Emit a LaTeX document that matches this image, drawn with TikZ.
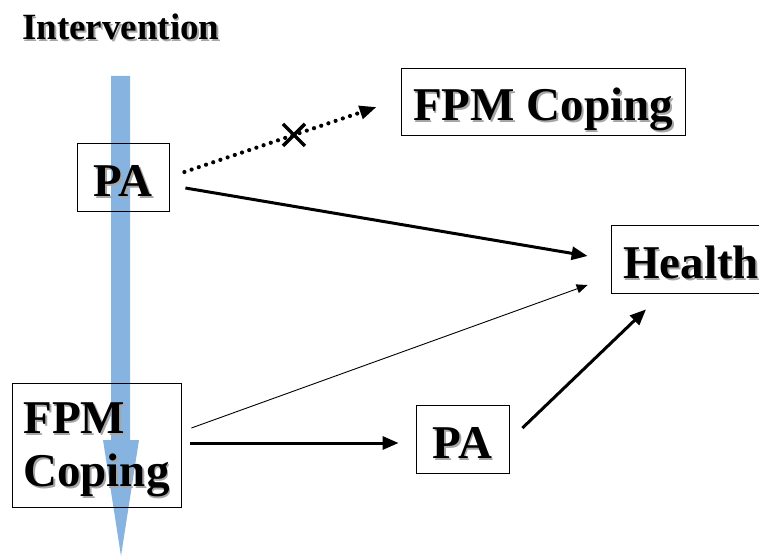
\documentclass[tikz,border=0pt]{standalone}
\usepackage{fontspec}
\setmainfont{Liberation Serif}
\usetikzlibrary{arrows.meta}
\definecolor{InterBlue}{RGB}{135,179,224}
\newcommand{\ShadowText}[1]{\leavevmode\rlap{\kern1.8pt\raisebox{-1.8pt}{\textcolor{black!35}{#1}}}#1}

\begin{document}
\begin{tikzpicture}[
          % Environment Config
          x=1pt, y=-1pt,
          Box/.style={% Style for the variable boxes
            draw,
            line width=0.8pt,
            inner sep=0pt,
            text depth=0pt,
            font=\fontsize{47}{53}\selectfont\bfseries
          },
          OneLine/.style={% Baseline for one-line boxes
            text height=39pt
          },
          MyArrow/.style={% Style for the strong paths
            -{Triangle[length=16pt,width=13pt]},
            line width=3pt
          },
          ThinArrow/.style={% Style for the weak path
            -{Triangle[length=11pt,width=9pt]},
            line width=0.9pt
          },
          DotArrow/.style={% Style for the missing path
            -{Triangle[length=17pt,width=13pt]},
            line width=4.2pt,
            line cap=round,
            dash pattern=on 0pt off 7.6pt
          }
        ]
        \useasboundingbox (0,0) rectangle (759,556);

        % Title
        \node[anchor=base west,inner sep=0pt,font=\fontsize{37}{44}\selectfont\bfseries]
            (inter) at (22,40) {\ShadowText{Intervention}};

        % Intervention arrow
        \fill[InterBlue]
        (111,76)
            -- (130,76)
            -- (130,440)
            -- (139,440)
            -- (121,556)
            -- (103,440)
            -- (111,440)
            -- cycle;

        % Put the boxes in position
        \node[Box,OneLine,minimum width=92,minimum height=68] (pa1) at (123,177) {\ShadowText{PA}};
        \node[Box,OneLine,minimum width=284,minimum height=67] (fpm1) at (543,101.5) {\ShadowText{FPM Coping}};
        \node[Box,OneLine,minimum width=160,minimum height=68] (health) at (691,259) {\ShadowText{Health}};
        \node[Box,minimum width=169,minimum height=124,align=left] (fpm2) at (96.5,445)
            {\ShadowText{FPM}\\\ShadowText{Coping}};
        \node[Box,OneLine,minimum width=93,minimum height=68] (pa2) at (462.5,439) {\ShadowText{PA}};

        % Draw the paths
        %===PA -> FPM Coping (none)===
        \draw[DotArrow]
        ([shift={(15,-5)}]pa1.east)
            -- ([shift={(-24,5.5)}]fpm1.west)
            coordinate[pos=0.57] (cross);
        \draw[line width=3.5pt]
        (cross)
            ++(-11,-11) -- ++(22,22)
            ++(0,-22) -- ++(-22,22);

        %===PA -> Health===
        \draw[MyArrow]
        ([shift={(16,11)}]pa1.east)
            -- ([shift={(-23,-3)}]health.west);

        %===FPM Coping -> Health===
        \draw[ThinArrow]
        ([shift={(10,-17)}]fpm2.east)
            -- ([shift={(-23,26)}]health.west);

        %===FPM Coping -> PA -> Health===
        \draw[MyArrow]
        ([shift={(9,-2)}]fpm2.east)
            -- ([shift={(-17,4)}]pa2.west);
        \draw[MyArrow]
        ([shift={(13,-11)}]pa2.east)
            -- ([shift={(-45,16)}]health.south);

        \end{tikzpicture}
\end{document}
